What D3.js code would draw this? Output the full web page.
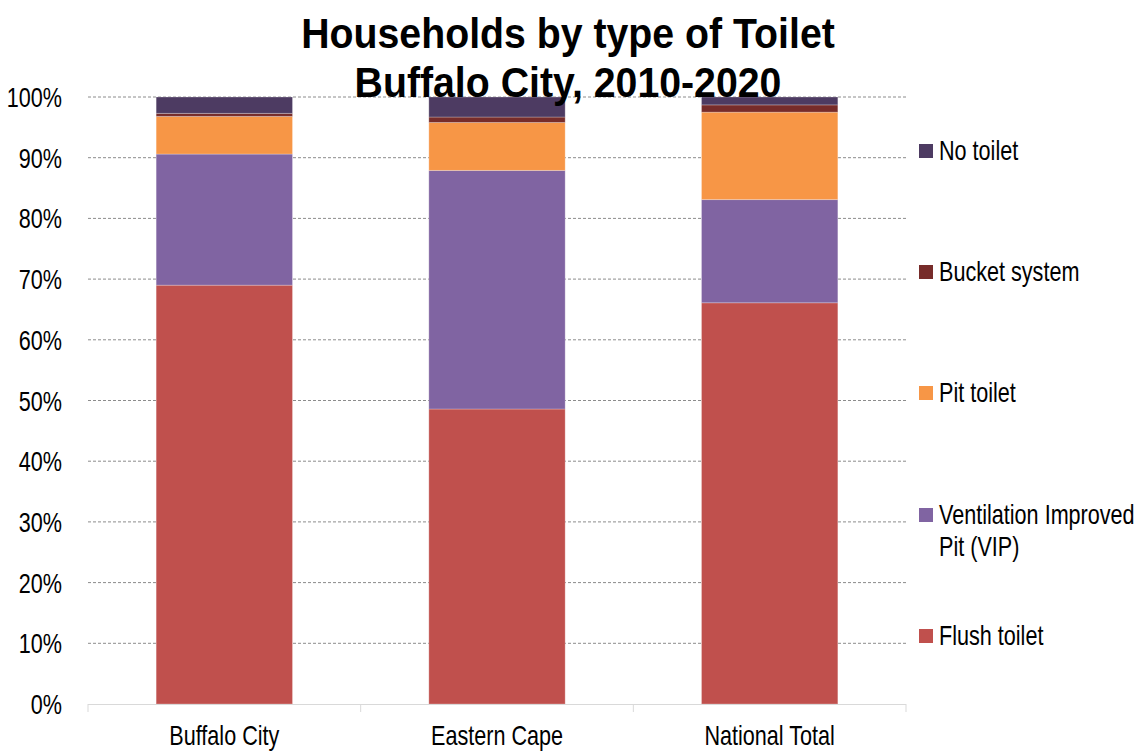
<!DOCTYPE html>
<html><head><meta charset="utf-8">
<script src="https://cdn.jsdelivr.net/npm/d3@7"></script>
<style>body{margin:0;background:#fff}svg{display:block}text{font-family:"Liberation Sans",Arial,sans-serif}</style>
</head><body><svg id="c" width="1142" height="751"></svg>
<script>
const categories = ["Buffalo City", "Eastern Cape", "National Total"];
const seriesNames = ["Flush toilet", "Ventilation Improved Pit (VIP)", "Pit toilet", "Bucket system", "No toilet"];
const flush = [69.0, 48.6, 66.1];
const vip = [21.6, 39.3, 17.0];
const pit = [6.2, 7.9, 14.4];
const bucket = [0.5, 0.9, 1.2];
const noToilet = [2.7, 3.3, 1.3];
const colors = ["#c0504d", "#8064a2", "#f79646", "#772c2a", "#4d3b62"];
const yTicks = [0, 10, 20, 30, 40, 50, 60, 70, 80, 90, 100];

const svg = d3.select("#c");
const m = {l: 88, r: 906, t: 97, b: 704};
const x = d3.scaleBand().domain(categories).range([m.l, m.r]).paddingInner(0.5).paddingOuter(0.25);
const y = d3.scaleLinear().domain([0, 100]).range([m.b, m.t]);

// narrow-text helper: horizontally condensed text anchored at (tx, ty)
function ntext(parent, tx, ty, str, opts) {
  const o = Object.assign({size: 27, sx: 0.8, anchor: "start", weight: "normal"}, opts || {});
  return parent.append("text")
    .attr("transform", `translate(${tx},${ty}) scale(${o.sx},1)`)
    .attr("text-anchor", o.anchor).attr("font-size", o.size).attr("font-weight", o.weight)
    .attr("fill", "#000").text(str);
}

const rows = categories.map((c, i) => ({cat: c, s0: flush[i], s1: vip[i], s2: pit[i], s3: bucket[i], s4: noToilet[i]}));
const stack = d3.stack().keys(["s0", "s1", "s2", "s3", "s4"])(rows);

// gridlines
svg.append("g").selectAll("line").data(yTicks.filter(d => d > 0)).join("line")
  .attr("x1", m.l).attr("x2", m.r).attr("y1", d => y(d)).attr("y2", d => y(d))
  .attr("stroke", "#8c8c8c").attr("stroke-width", 1).attr("stroke-dasharray", "3,2");

// bars
svg.append("g").selectAll("g").data(stack).join("g").attr("fill", (d, i) => colors[i])
  .selectAll("rect").data(d => d).join("rect")
  .attr("x", d => x(d.data.cat)).attr("width", x.bandwidth())
  .attr("y", d => y(d[1])).attr("height", d => y(d[0]) - y(d[1]))
  .attr("stroke", "rgba(255,255,255,0.25)").attr("stroke-width", 1);

// x axis baseline + tick marks at category boundaries
const edges = [m.l, ...categories.map(c => x(c) + x.bandwidth() / 2 + x.step() / 2)];
svg.append("line").attr("x1", m.l).attr("x2", m.r).attr("y1", m.b + 0.5).attr("y2", m.b + 0.5).attr("stroke", "#d9d9d9");
svg.append("g").selectAll("line").data(edges).join("line")
  .attr("x1", d => d).attr("x2", d => d).attr("y1", m.b).attr("y2", m.b + 8).attr("stroke", "#d9d9d9");

// y labels
const gy = svg.append("g");
yTicks.forEach(d => ntext(gy, 62, y(d) + 10, d + "%", {anchor: "end"}));

// x labels
const gx = svg.append("g");
categories.forEach(c => ntext(gx, x(c) + x.bandwidth() / 2, 745, c, {anchor: "middle"}));

// title
const gt = svg.append("g");
ntext(gt, 568, 48, "Households by type of Toilet", {size: 42, sx: 0.935, anchor: "middle", weight: "bold"});
ntext(gt, 568, 97, "Buffalo City, 2010-2020", {size: 42, sx: 0.935, anchor: "middle", weight: "bold"});

// legend
const legendY = [151, 272, 393, 515, 636];
const leg = svg.append("g");
[4, 3, 2, 1, 0].forEach((si, k) => {
  const yy = legendY[k];
  leg.append("rect").attr("x", 919).attr("y", yy - 7).attr("width", 14).attr("height", 14).attr("fill", colors[si]);
  if (si === 1) {
    ntext(leg, 939, yy + 9, "Ventilation Improved");
    ntext(leg, 939, yy + 41, "Pit (VIP)");
  } else {
    ntext(leg, 939, yy + 9, seriesNames[si]);
  }
});
</script></body></html>
